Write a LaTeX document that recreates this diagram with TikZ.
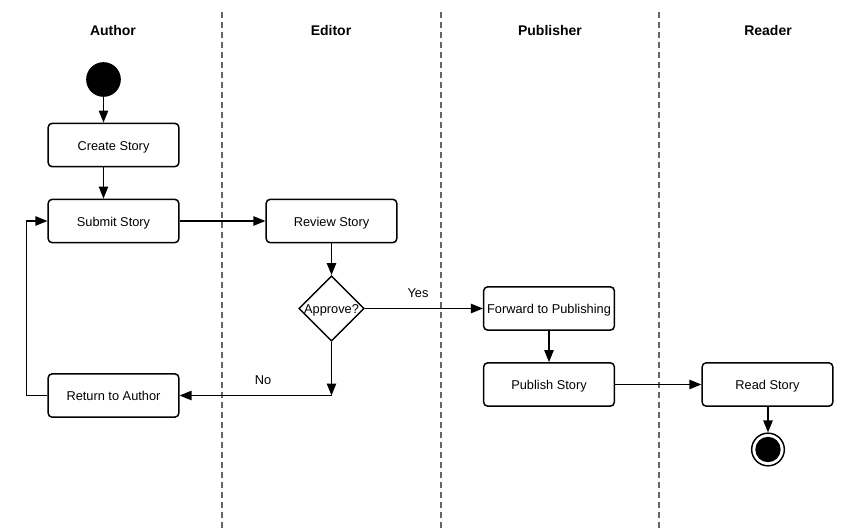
\documentclass[tikz,border=0pt]{standalone}
\usepackage{fontspec}
\setmainfont{Liberation Sans}
\usetikzlibrary{arrows.meta,shapes.geometric,calc}
\begin{document}
\begin{tikzpicture}[x=0.75pt,y=-0.75pt,
  every node/.style={font=\fontsize{9.6}{11}\selectfont},
  lanetitle/.style={font=\fontsize{10.5}{12}\selectfont\bfseries},
  lane/.style={draw=black!60,line width=1pt,dash pattern=on 4.5pt off 3pt},
  actbox/.style={draw,line width=1.1pt,rounded corners=3pt,fill=white,
    minimum width=98pt,minimum height=32.5pt,inner sep=0pt,
    text height=8pt,text depth=0pt},
  decbox/.style={diamond,draw,line width=1.1pt,fill=white,
    minimum width=48.75pt,minimum height=48.75pt,inner sep=0pt,
    text height=8pt,text depth=0pt},
  startdot/.style={circle,fill=black,minimum size=26pt,inner sep=0pt},
  endring/.style={circle,draw,line width=1.1pt,fill=white,minimum size=24.5pt,inner sep=0pt},
  flow/.style={line width=1.1pt,-{Triangle[length=9pt,width=7pt]}}]
\useasboundingbox (0,0) rectangle (854,528);
\fill[white] (0,0) rectangle (854,528);
% lanes
\draw[lane] (222,12) -- (222,528);
\draw[lane] (441,12) -- (441,528);
\draw[lane] (659,12) -- (659,528);
\node[lanetitle] (tAuthor) at (113,30) {Author};
\node[lanetitle] (tEditor) at (331,30) {Editor};
\node[lanetitle] (tPub) at (550,30) {Publisher};
\node[lanetitle] (tReader) at (768,30) {Reader};
% nodes
\node[startdot] (start) at (103.5,79.5) {};
\node[actbox] (create) at (113.5,145) {Create Story};
\node[actbox] (submit) at (113.5,221) {Submit Story};
\node[actbox] (review) at (331.5,221) {Review Story};
\node[decbox] (dec) at (331.5,308.5) {Approve?};
\node[actbox] (fwd) at (549,308.5) {Forward to Publishing};
\node[actbox] (pub) at (549,384.5) {Publish Story};
\node[actbox] (read) at (767.5,384.5) {Read Story};
\node[actbox] (ret) at (113.5,395.5) {Return to Author};
\node[endring] (end) at (768,449.5) {};
\fill (end.center) circle (9.5pt);
% connectors
\draw[flow] (start) -- (start |- create.north);
\draw[flow] (create.south -| start) -- (submit.north -| start);
\draw[flow] (submit) -- (review);
\draw[flow] (review) -- (dec);
\draw[flow] (dec) -- node[above,pos=0.45,yshift=4pt] (yes) {Yes} (fwd);
\draw[flow] (fwd) -- (pub);
\draw[flow] (pub) -- (read);
\draw[flow] (read.south -| end) -- (end);
\coordinate (corner) at (dec.south |- ret.east);
\draw[flow] (dec.south) -- (corner);
\draw[flow] (corner) -- node[above,pos=0.45,yshift=4pt] (no) {No} (ret.east);
\draw[flow] (ret.west) -- ++(-21,0) |- (submit.west);
\end{tikzpicture}
\end{document}
